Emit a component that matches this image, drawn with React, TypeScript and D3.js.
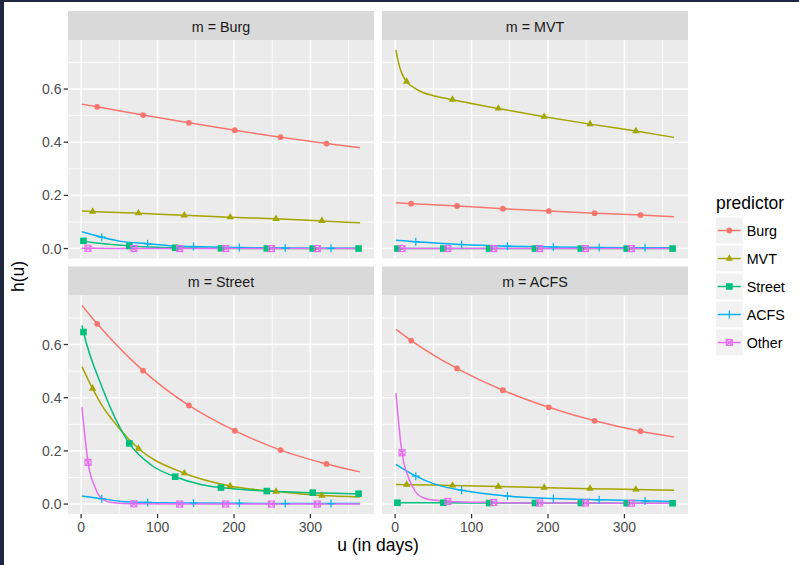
import React from "react";
import * as d3 from "d3";

type Pt = [number, number];

const facetNames = ["Burg", "MVT", "Street", "ACFS"];
const predictorNames = ["Burg", "MVT", "Street", "ACFS", "Other"];
const predictorColors = ["#F8766D", "#A3A500", "#00BF7D", "#00B0F6", "#E76BF3"];
const predictorShapes = ["circle", "triangle", "square", "plus", "squareCross"];

const xTicks = [0, 100, 200, 300];
const xMinor = [50, 150, 250, 350];
const yTicks = [0, 0.2, 0.4, 0.6];
const yMinor = [0.1, 0.3, 0.5, 0.7];

// days at which markers are drawn, per predictor
const markBurg = [21, 81, 141, 201, 261, 321];
const markMVT = [15, 75, 135, 195, 255, 315];
const markStreet = [3, 63, 123, 183, 243, 303, 363];
const markACFS = [27, 87, 147, 207, 267, 327];
const markOther = [9, 69, 129, 189, 249, 309];

// facet m = Burg : [u, h(u)]
const burgBurg: Pt[] = [[1, .543], [21, .533], [81, .502], [141, .473], [201, .445], [261, .419], [321, .395], [365, .379]];
const burgMVT: Pt[] = [[1, .141], [15, .139], [75, .133], [135, .125], [195, .118], [255, .112], [315, .104], [365, .097]];
const burgStreet: Pt[] = [[1, .031], [3, .029], [30, .018], [63, .010], [90, .006], [123, .003], [183, .001], [243, .0005], [303, .0003], [363, .0002], [365, .0002]];
const burgACFS: Pt[] = [[1, .063], [27, .043], [50, .028], [87, .018], [115, .011], [147, .0075], [207, .004], [267, .002], [327, .001], [365, .001]];
const burgOther: Pt[] = [[1, .001], [9, .001], [69, 0], [129, 0], [189, 0], [249, 0], [309, 0], [365, 0]];

// facet m = MVT
const mvtBurg: Pt[] = [[1, .172], [21, .169], [81, .160], [141, .150], [201, .141], [261, .133], [321, .126], [365, .120]];
const mvtMVT: Pt[] = [[1, .747], [4, .703], [9, .657], [15, .628], [24, .606], [37, .586], [50, .575], [75, .560], [135, .527], [195, .496], [255, .468], [315, .442], [365, .418]];
const mvtStreet: Pt[] = [[1, 0], [3, 0], [63, 0], [123, 0], [183, 0], [243, 0], [303, 0], [363, 0], [365, 0]];
const mvtACFS: Pt[] = [[1, .031], [27, .026], [87, .015], [147, .009], [207, .006], [267, .004], [327, .003], [365, .003]];
const mvtOther: Pt[] = [[1, 0], [9, 0], [69, 0], [129, 0], [189, 0], [249, 0], [309, 0], [365, 0]];

// facet m = Street
const streetBurg: Pt[] = [[1, .747], [21, .678], [81, .502], [141, .371], [201, .276], [261, .203], [321, .151], [365, .121]];
const streetMVT: Pt[] = [[1, .517], [15, .434], [27, .372], [48, .291], [75, .209], [135, .116], [195, .068], [255, .047], [315, .032], [365, .027]];
const streetStreet: Pt[] = [[1, .672], [3, .647], [27, .442], [48, .303], [63, .228], [92, .146], [123, .103], [158, .073], [183, .062], [243, .049], [303, .043], [363, .039], [365, .039]];
const streetACFS: Pt[] = [[1, .030], [27, .020], [50, .011], [87, .006], [147, .004], [207, .003], [267, .002], [327, .002], [365, .002]];
const streetOther: Pt[] = [[1, .364], [5, .253], [9, .157], [18, .064], [27, .020], [40, .006], [69, .001], [129, 0], [189, 0], [249, 0], [309, 0], [365, 0]];

// facet m = ACFS
const acfsBurg: Pt[] = [[1, .657], [21, .615], [81, .510], [141, .428], [201, .364], [261, .313], [321, .274], [365, .252]];
const acfsMVT: Pt[] = [[1, .074], [15, .073], [75, .070], [135, .066], [195, .062], [255, .058], [315, .055], [365, .052]];
const acfsStreet: Pt[] = [[1, .005], [3, .005], [63, .005], [123, .004], [183, .004], [243, .004], [303, .003], [363, .003], [365, .003]];
const acfsACFS: Pt[] = [[1, .149], [27, .105], [53, .074], [87, .052], [147, .030], [207, .021], [267, .016], [327, .012], [365, .010]];
const acfsOther: Pt[] = [[1, .417], [9, .193], [18, .096], [27, .045], [40, .020], [53, .014], [69, .010], [129, .006], [189, .004], [249, .004], [309, .003], [365, .003]];

const markDays = [markBurg, markMVT, markStreet, markACFS, markOther];
const facetSeries: Pt[][][] = [
  [burgBurg, burgMVT, burgStreet, burgACFS, burgOther],
  [mvtBurg, mvtMVT, mvtStreet, mvtACFS, mvtOther],
  [streetBurg, streetMVT, streetStreet, streetACFS, streetOther],
  [acfsBurg, acfsMVT, acfsStreet, acfsACFS, acfsOther],
];

const FONT = "'Liberation Sans', Arial, Helvetica, sans-serif";
const W = 799, H = 565;
const cols: [number, number][] = [[68, 374], [382, 688]];
const rows = [
  { strip: 11, top: 40, bottom: 258.5 },
  { strip: 266.5, top: 295.5, bottom: 514 },
];

function expand(ext: [number, number]): [number, number] {
  const r = ext[1] - ext[0];
  return [ext[0] - r * 0.05, ext[1] + r * 0.05];
}

const allPts = facetSeries.flat(2) as unknown as Pt[];
const xDomain = expand(d3.extent(facetSeries.flat().flat(), (p: Pt) => p[0]) as [number, number]);
const yDomain = expand(d3.extent(facetSeries.flat().flat(), (p: Pt) => p[1]) as [number, number]);
void allPts;

function Marker({ shape, x, y, color }: { shape: string; x: number; y: number; color: string }) {
  if (shape === "circle") return <circle cx={x} cy={y} r={2.9} fill={color} />;
  if (shape === "triangle")
    return <path d={d3.symbol(d3.symbolTriangle, 24)() || ""} transform={`translate(${x},${y})`} fill={color} />;
  if (shape === "square") return <rect x={x - 3.3} y={y - 3.3} width={6.6} height={6.6} fill={color} />;
  if (shape === "plus")
    return <path d={`M${x - 4},${y}H${x + 4}M${x},${y - 4}V${y + 4}`} stroke={color} strokeWidth={1.2} fill="none" />;
  return (
    <g stroke={color} strokeWidth={1.1} fill="none">
      <rect x={x - 3} y={y - 3} width={6} height={6} />
      <path d={`M${x - 3},${y - 3}L${x + 3},${y + 3}M${x + 3},${y - 3}L${x - 3},${y + 3}`} />
    </g>
  );
}

export default function App() {
  const panels = facetNames.map((name, fi) => {
    const c = fi % 2, r = Math.floor(fi / 2);
    const [x0, x1] = cols[c];
    const row = rows[r];
    const xs = d3.scaleLinear().domain(xDomain).range([x0, x1]);
    const ys = d3.scaleLinear().domain(yDomain).range([row.bottom, row.top]);
    const line = d3.line<Pt>().x((d) => xs(d[0])).y((d) => ys(d[1])).curve(d3.curveMonotoneX);
    const clipId = `clip${fi}`;
    return (
      <g key={name}>
        <defs>
          <clipPath id={clipId}>
            <rect x={x0} y={row.top} width={x1 - x0} height={row.bottom - row.top} />
          </clipPath>
        </defs>
        <rect x={x0} y={row.strip} width={x1 - x0} height={row.top - row.strip} fill="#D9D9D9" />
        <text x={(x0 + x1) / 2} y={row.strip + 20.5} textAnchor="middle" fontSize={14.3} fill="#1A1A1A" fontFamily={FONT}>
          {`m = ${name}`}
        </text>
        <rect x={x0} y={row.top} width={x1 - x0} height={row.bottom - row.top} fill="#EBEBEB" />
        {yMinor.map((v) => (
          <line key={"ym" + v} x1={x0} x2={x1} y1={ys(v)} y2={ys(v)} stroke="#FFFFFF" strokeWidth={0.8} />
        ))}
        {xMinor.map((v) => (
          <line key={"xm" + v} y1={row.top} y2={row.bottom} x1={xs(v)} x2={xs(v)} stroke="#FFFFFF" strokeWidth={0.8} />
        ))}
        {yTicks.map((v) => (
          <line key={"yM" + v} x1={x0} x2={x1} y1={ys(v)} y2={ys(v)} stroke="#FFFFFF" strokeWidth={1.6} />
        ))}
        {xTicks.map((v) => (
          <line key={"xM" + v} y1={row.top} y2={row.bottom} x1={xs(v)} x2={xs(v)} stroke="#FFFFFF" strokeWidth={1.6} />
        ))}
        <g clipPath={`url(#${clipId})`}>
          {facetSeries[fi].map((s, pi) => (
            <path key={"l" + pi} d={line(s) || ""} fill="none" stroke={predictorColors[pi]} strokeWidth={1.5} />
          ))}
          {facetSeries[fi].map((s, pi) =>
            markDays[pi].map((u) => {
              const p = s.find((q) => q[0] === u);
              if (!p) return null;
              return <Marker key={"m" + pi + "_" + u} shape={predictorShapes[pi]} x={xs(p[0])} y={ys(p[1])} color={predictorColors[pi]} />;
            })
          )}
        </g>
        {c === 0 &&
          yTicks.map((v) => (
            <g key={"yt" + v}>
              <line x1={x0 - 4.3} x2={x0} y1={ys(v)} y2={ys(v)} stroke="#333333" strokeWidth={1.3} />
              <text x={x0 - 6.5} y={ys(v) + 5} textAnchor="end" fontSize={14} fill="#4D4D4D" fontFamily={FONT}>
                {d3.format(".1f")(v)}
              </text>
            </g>
          ))}
        {r === 1 &&
          xTicks.map((v) => (
            <g key={"xt" + v}>
              <line x1={xs(v)} x2={xs(v)} y1={row.bottom} y2={row.bottom + 4.3} stroke="#333333" strokeWidth={1.3} />
              <text x={xs(v)} y={531.5} textAnchor="middle" fontSize={14} fill="#4D4D4D" fontFamily={FONT}>
                {String(v)}
              </text>
            </g>
          ))}
      </g>
    );
  });

  const legendX = 716, legendTop = 217.7, keyPitch = 28, keyW = 26.7, keyH = 25.6;

  return (
    <svg width={W} height={H} style={{ position: "absolute", left: 0, top: 0, background: "#FFFFFF" }}>
      <rect x={0} y={0} width={W} height={H} fill="#FFFFFF" />
      <rect x={0} y={0} width={W} height={2} fill="#1E2640" />
      <rect x={0} y={0} width={4} height={H} fill="#1E2640" />
      {panels}
      <text x={378} y={551} textAnchor="middle" fontSize={17.5} fill="#000000" fontFamily={FONT}>
        u (in days)
      </text>
      <text transform={`translate(24,276.5) rotate(-90)`} textAnchor="middle" fontSize={17.5} fill="#000000" fontFamily={FONT}>
        h(u)
      </text>
      <text x={legendX} y={209} fontSize={17.5} fill="#000000" fontFamily={FONT}>
        predictor
      </text>
      {predictorNames.map((n, i) => {
        const ky = legendTop + i * keyPitch;
        const cy = ky + keyH / 2;
        const cx = legendX + keyW / 2;
        return (
          <g key={"lg" + n}>
            <rect x={legendX} y={ky} width={keyW} height={keyH} fill="#F2F2F2" />
            <line x1={legendX + 1.7} x2={legendX + keyW - 2} y1={cy} y2={cy} stroke={predictorColors[i]} strokeWidth={1.5} />
            <Marker shape={predictorShapes[i]} x={cx} y={cy} color={predictorColors[i]} />
            <text x={746.7} y={cy + 5.3} fontSize={14.3} fill="#000000" fontFamily={FONT}>
              {n}
            </text>
          </g>
        );
      })}
    </svg>
  );
}
